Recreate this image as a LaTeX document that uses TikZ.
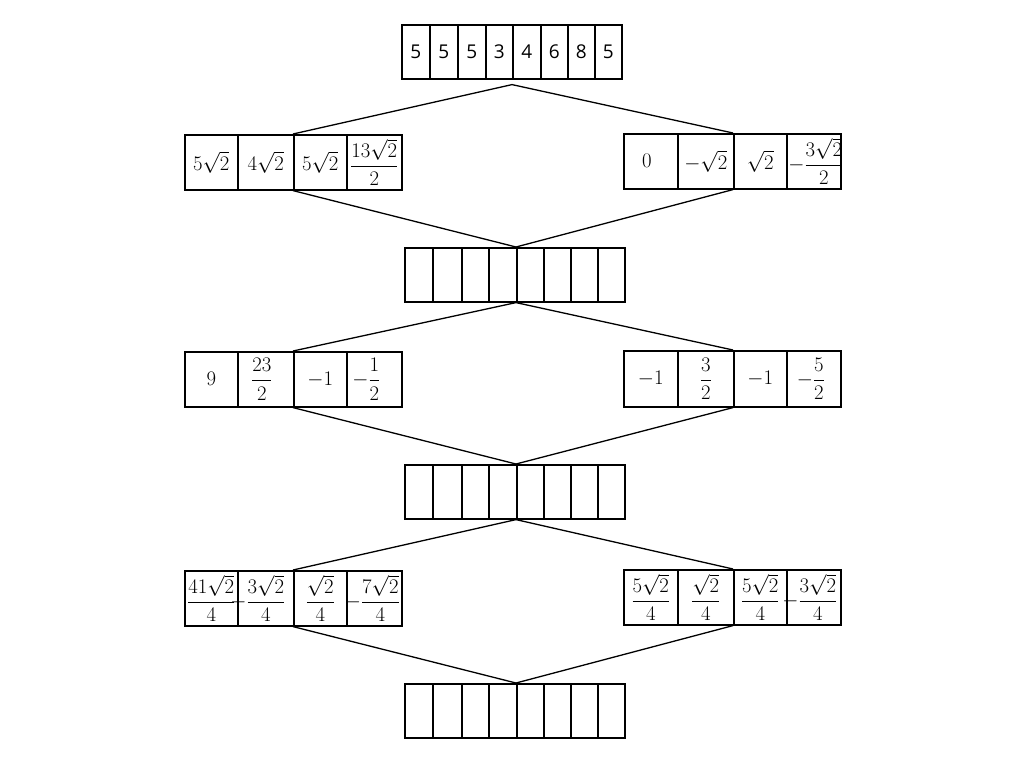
\documentclass[tikz,border=0pt]{standalone}
\usepackage{amsmath}
\usepackage{fontspec}
\newfontfamily\digitfont{Open Sans}
\tikzset{
  cell/.style={draw, line width=1.6pt, inner sep=0pt, anchor=north west, font=\fontsize{20}{24}\selectfont},
  dcell/.style={cell, font=\digitfont\fontsize{19}{23}\selectfont},
  conn/.style={line width=1.3pt}
}
% name, x, y, width, height, shift, text
\newcommand{\mycell}[7]{\node[cell, minimum width=#4pt, minimum height=#5pt] (#1) at (#2,#3) {\makebox[0pt]{\kern#6pt\kern#6pt #7}};}
\newcommand{\mydcell}[5]{\node[dcell, minimum width=#4pt, minimum height=54pt] (#1) at (#2,#3) {#5};}
\begin{document}
\begin{tikzpicture}[x=1pt,y=-1pt]
\useasboundingbox (0,0) rectangle (1024,768);
% top array
\mydcell{r0c1}{401}{24}{28}{5}
\mydcell{r0c2}{429}{24}{28}{5}
\mydcell{r0c3}{457}{24}{28}{5}
\mydcell{r0c4}{485}{24}{27}{3}
\mydcell{r0c5}{512}{24}{28}{4}
\mydcell{r0c6}{540}{24}{27}{6}
\mydcell{r0c7}{567}{24}{27}{8}
\mydcell{r0c8}{594}{24}{27}{5}
% row 1 left
\mycell{r1Lc1}{184}{134}{53}{55}{0}{$5\sqrt{2}$}
\mycell{r1Lc2}{237}{134}{56}{55}{0}{$4\sqrt{2}$}
\mycell{r1Lc3}{293}{134}{53}{55}{0}{$5\sqrt{2}$}
\mycell{r1Lc4}{346}{134}{55}{55}{0}{$\dfrac{13\sqrt{2}}{2}$}
% row 1 right
\mycell{r1Rc1}{623}{133}{54}{55}{-4}{$0$}
\mycell{r1Rc2}{677}{133}{56}{55}{0}{$-\sqrt{2}$}
\mycell{r1Rc3}{733}{133}{53}{55}{0}{$\sqrt{2}$}
\mycell{r1Rc4}{786}{133}{54}{55}{2}{$-\dfrac{3\sqrt{2}}{2}$}
% middle arrays
\foreach \rr/\yy in {r2/247, r4/464, r6/683}{
  \mycell{\rr c1}{404}{\yy}{28}{54}{0}{}
  \mycell{\rr c2}{432}{\yy}{29}{54}{0}{}
  \mycell{\rr c3}{461}{\yy}{27}{54}{0}{}
  \mycell{\rr c4}{488}{\yy}{28}{54}{0}{}
  \mycell{\rr c5}{516}{\yy}{27}{54}{0}{}
  \mycell{\rr c6}{543}{\yy}{27}{54}{0}{}
  \mycell{\rr c7}{570}{\yy}{27}{54}{0}{}
  \mycell{\rr c8}{597}{\yy}{27}{54}{0}{}
}
% row 3 left
\mycell{r3Lc1}{184}{351}{53}{55}{0}{$9$}
\mycell{r3Lc2}{237}{351}{56}{55}{-4}{$\dfrac{23}{2}$}
\mycell{r3Lc3}{293}{351}{53}{55}{0}{$-1$}
\mycell{r3Lc4}{346}{351}{55}{55}{-8}{$-\dfrac{1}{2}$}
% row 3 right
\mycell{r3Rc1}{623}{350}{54}{56}{0}{$-1$}
\mycell{r3Rc2}{677}{350}{56}{56}{0}{$\dfrac{3}{2}$}
\mycell{r3Rc3}{733}{350}{53}{56}{0}{$-1$}
\mycell{r3Rc4}{786}{350}{54}{56}{-3}{$-\dfrac{5}{2}$}
% row 5 left
\mycell{r5Lc1}{184}{570}{53}{55}{0}{$\dfrac{41\sqrt{2}}{4}$}
\mycell{r5Lc2}{237}{570}{56}{55}{-8}{$-\dfrac{3\sqrt{2}}{4}$}
\mycell{r5Lc3}{293}{570}{53}{55}{0}{$\dfrac{\sqrt{2}}{4}$}
\mycell{r5Lc4}{346}{570}{55}{55}{-2}{$-\dfrac{7\sqrt{2}}{4}$}
% row 5 right
\mycell{r5Rc1}{623}{569}{54}{55}{0}{$\dfrac{5\sqrt{2}}{4}$}
\mycell{r5Rc2}{677}{569}{56}{55}{0}{$\dfrac{\sqrt{2}}{4}$}
\mycell{r5Rc3}{733}{569}{53}{55}{0}{$\dfrac{5\sqrt{2}}{4}$}
\mycell{r5Rc4}{786}{569}{54}{55}{-4}{$-\dfrac{3\sqrt{2}}{4}$}
% connectors
\coordinate (apex) at ([yshift=-5pt]r0c5.south west);
\draw[conn] (apex) -- (r1Lc3.north west);
\draw[conn] (apex) -- (r1Rc3.north west);
\draw[conn] (r1Lc3.south west) -- (r2c5.north west);
\draw[conn] (r1Rc3.south west) -- (r2c5.north west);
\draw[conn] (r2c5.south west) -- (r3Lc3.north west);
\draw[conn] (r2c5.south west) -- (r3Rc3.north west);
\draw[conn] (r3Lc3.south west) -- (r4c5.north west);
\draw[conn] (r3Rc3.south west) -- (r4c5.north west);
\draw[conn] (r4c5.south west) -- (r5Lc3.north west);
\draw[conn] (r4c5.south west) -- (r5Rc3.north west);
\draw[conn] (r5Lc3.south west) -- (r6c5.north west);
\draw[conn] (r5Rc3.south west) -- (r6c5.north west);
\end{tikzpicture}
\end{document}
